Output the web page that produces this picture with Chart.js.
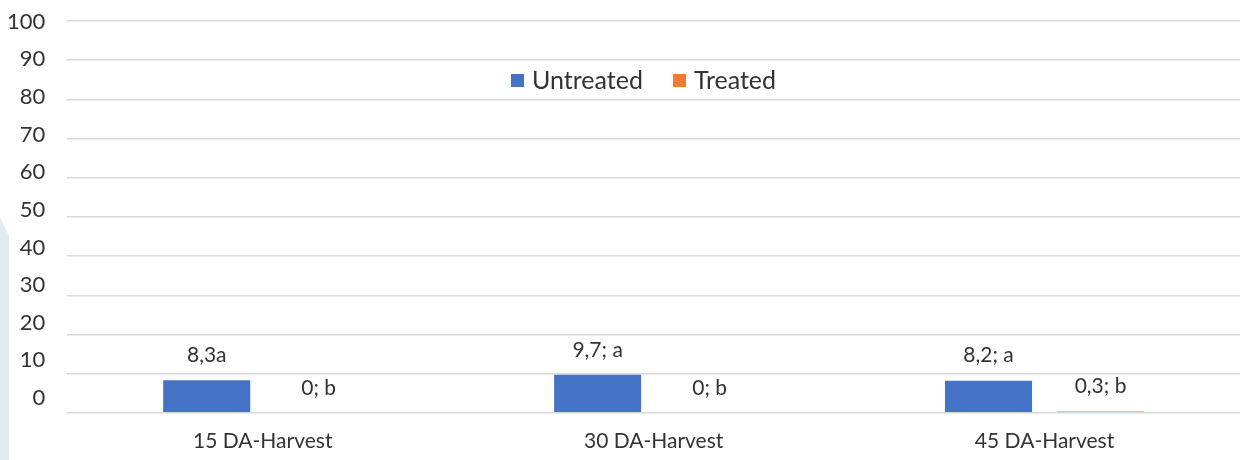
<!DOCTYPE html>
<html>
<head>
    <title>DA-Harvest</title>
    <script src="https://cdn.jsdelivr.net/npm/chart.js"></script>
    <style>
        html, body { margin: 0; padding: 0; background: #fff; }
        #wrap { position: relative; width: 1240px; height: 460px; overflow: hidden; }
        #deco { position: absolute; left: 0; top: 0; width: 9px; height: 460px; background: #e3ecec;
                clip-path: polygon(0 217px, 9px 236px, 9px 460px, 0 460px); }
        #chart { position: absolute; left: 0; top: 0; }
        #legend { position: absolute; top: 64px; left: 511px; display: flex; align-items: center;
                  font-family: Lato, sans-serif; font-size: 25px; color: #333; }
        .item { display: flex; align-items: center; margin-right: 30px; }
        .box { width: 13px; height: 13px; margin-right: 8px; margin-top: 3px; }
    </style>
</head>
<body>
<div id="wrap">
    <div id="deco"></div>
    <canvas id="chart" width="1240" height="460"></canvas>
    <div id="legend">
        <div class="item"><span class="box" style="background:#4472C4"></span>Untreated</div>
        <div class="item"><span class="box" style="background:#ED7D31"></span>Treated</div>
    </div>
</div>
<script>
    const categories = ['15 DA-Harvest', '30 DA-Harvest', '45 DA-Harvest'];
    const untreated = [8.3, 9.7, 8.2];
    const treated = [0, 0, 0.3];
    const untreatedLabels = ['8,3a', '9,7; a', '8,2; a'];
    const treatedLabels = ['0; b', '0; b', '0,3; b'];
    const yTicks = [0, 10, 20, 30, 40, 50, 60, 70, 80, 90, 100];
    const textColor = '#333';

    // texte au-dessus des barres (comme Excel)
    const barLabels = {
        id: 'barLabels',
        afterDatasetsDraw(chart) {
            const ctx = chart.ctx;
            const texts = [untreatedLabels, treatedLabels];
            ctx.save();
            ctx.font = '21px Lato, sans-serif';
            ctx.fillStyle = textColor;
            ctx.textAlign = 'center';
            ctx.textBaseline = 'middle';
            chart.data.datasets.forEach((ds, i) => {
                chart.getDatasetMeta(i).data.forEach((bar, j) => {
                    ctx.fillText(texts[i][j], bar.x, bar.y - 25);
                });
            });
            ctx.restore();
        }
    };

    const noVPad = axis => { axis.paddingTop = 0; axis.paddingBottom = 0; };

    new Chart(document.getElementById('chart'), {
        type: 'bar',
        data: {
            labels: categories,
            datasets: [
                { label: 'Untreated', data: untreated, backgroundColor: '#4472C4' },
                { label: 'Treated', data: treated, backgroundColor: '#ED7D31' }
            ]
        },
        options: {
            responsive: false,
            animation: false,
            categoryPercentage: 0.573,
            barPercentage: 0.777,
            layout: { padding: { left: -15, right: 0, top: 21, bottom: -10 } },
            plugins: { legend: { display: false }, tooltip: { enabled: false } },
            scales: {
                x: {
                    grid: { display: false, drawTicks: false },
                    border: { display: false },
                    ticks: { color: textColor, font: { family: 'Lato', size: 21 }, padding: 16 }
                },
                y: {
                    min: 0, max: 100,
                    grid: { color: '#d9d9d9', lineWidth: 1.5, drawTicks: false },
                    border: { display: false },
                    ticks: { display: false, stepSize: 10 },
                    afterFit: noVPad
                },
                yt: {
                    position: 'left',
                    min: -3.97, max: 100.2,
                    grid: { display: false, drawTicks: false },
                    border: { display: false },
                    afterBuildTicks: axis => { axis.ticks = yTicks.map(v => ({ value: v })); },
                    ticks: { color: textColor, font: { family: 'Lato', size: 22 }, padding: 22 },
                    afterFit: noVPad
                }
            }
        },
        plugins: [barLabels]
    });
</script>
</body>
</html>
